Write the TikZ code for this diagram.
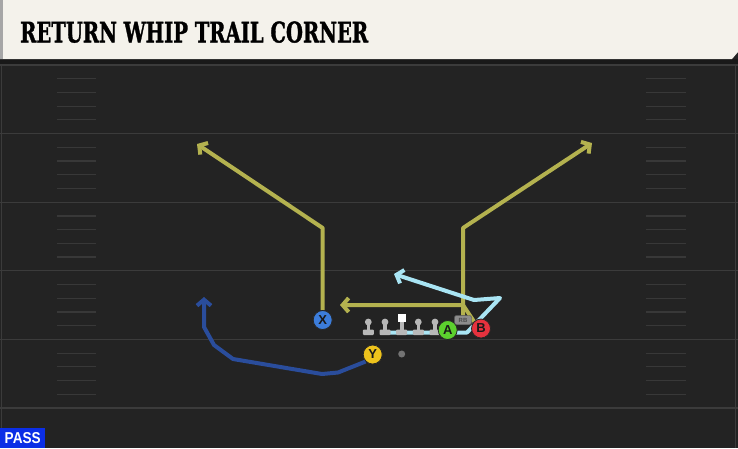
\documentclass[tikz,border=0pt]{standalone}
\usepackage{graphicx}
\usepackage{xcolor}
\usepackage{fontspec}
\setsansfont{Liberation Sans}
\newfontfamily\slabfont{DejaVu Serif}[BoldFeatures={FakeBold=1.5}]
\usepackage{tikz}
\usetikzlibrary{arrows.meta}

\definecolor{field}{HTML}{232323}
\definecolor{yardline}{HTML}{3B3B3B}
\definecolor{hashgray}{HTML}{383838}
\definecolor{titlebg}{HTML}{F4F2EB}
\definecolor{olive}{HTML}{B4B24F}
\definecolor{sky}{HTML}{A9E5F4}
\definecolor{navy}{HTML}{2A4D9C}
\definecolor{xblue}{HTML}{3C7DDB}
\definecolor{yyellow}{HTML}{EEC31C}
\definecolor{agreen}{HTML}{5CD12E}
\definecolor{bred}{HTML}{E5323E}
\definecolor{passblue}{HTML}{0B2EE6}
\definecolor{linegray}{HTML}{B8B8B8}

\begin{document}
\begin{tikzpicture}[x=1pt,y=-1pt,
    player/.style={draw=black!85,line width=0.8pt,circle,minimum size=19pt,inner sep=0pt,
        font=\sffamily\bfseries\fontsize{13}{13}\selectfont,text=black!90},
    back/.style={draw=black!70,fill=black!45,rounded corners=2pt,minimum width=17pt,minimum height=9pt,
        inner sep=0pt,font=\sffamily\bfseries\fontsize{6}{6}\selectfont,text=black!70},
    route/.style={line width=4pt,line join=round,-{Straight Barb[length=6pt,width=14pt]}},
    hash/.style={draw=hashgray,line width=1.2pt}]
    \useasboundingbox (0,0) rectangle (738,448);
    \fill[field] (0,0) rectangle (738,448);
    % field lines
    \foreach \k in {0,...,5} {
        \draw[yardline,line width=1.3pt] (0,65+68.6*\k) -- (738,65+68.6*\k);
    }
    \foreach \k in {0,...,4} {
        \foreach \i in {1,...,4} {
            \draw[hash] (57,65+68.6*\k+13.7*\i) -- (96,65+68.6*\k+13.7*\i);
            \draw[hash] (646,65+68.6*\k+13.7*\i) -- (686,65+68.6*\k+13.7*\i);
        }
    }
    \draw[yardline,line width=1pt] (1.5,60) -- (1.5,448);
    \draw[yardline,line width=1pt] (735.5,60) -- (735.5,448);
    % title bar
    \fill[black!90] (0,59) rectangle (738,64);
    \fill[titlebg] (0,0) -- (738,0) -- (738,52) -- (732,59) -- (0,59) -- cycle;
    \fill[black!35] (0,0) rectangle (3,59);
    \node[anchor=south west,inner sep=0pt] (title) at (20,43)
        {\resizebox{348pt}{21pt}{\slabfont\bfseries RETURN WHIP TRAIL CORNER}};
    \node[fill=passblue,anchor=south west,minimum width=45pt,minimum height=20pt,inner sep=0pt] (pass) at (0,448)
        {\color{white}\resizebox{36pt}{11pt}{\sffamily\bfseries PASS}};

    % players
    \node[player,fill=xblue] (X) at (322.7,320) {X};
    \node[player,fill=yyellow] (Y) at (372.7,354.5) {Y};
    \node[player,fill=agreen] (A) at (447.7,330) {A};
    \node[player,fill=bred] (B) at (481,328.5) {B};
    \node[back] (RB) at (463,320) {RB};
    \node[circle,fill=black!55,minimum size=7pt,inner sep=0pt] (ball) at (401.7,354) {};

    % routes
    \coordinate (c1) at (380,332.5);
    \draw[route,olive] (X.north) -- (322.7,228) -- (197,144);
    \draw[route,olive] (RB.north) -- (463,228) -- (592,143);
    \draw[route,olive] (B.north west) -- (463,305) -- (340,305);
    \draw[route,sky] (c1) -- (467,332.5) -- (500,298) -- (474,300) -- (394,274);
    \draw[route,navy] (Y.south west) -- (338,372.5) -- (322,374) -- (233,359) -- (214,345)
        -- (204,327) -- (204,297);

    % line
    \foreach \x in {368.3,385,418.3,435} {
        \fill[linegray] (\x,322) circle (3.4);
        \fill[linegray] (\x-1.8,322) rectangle (\x+1.8,331);
        \fill[linegray,rounded corners=1pt] (\x-5.5,329.5) rectangle (\x+5.5,335);
    }
    \fill[white] (397.7,313.5) rectangle (405.7,321.5);
    \fill[linegray] (399.9,321.5) rectangle (403.5,331);
    \fill[linegray,rounded corners=1pt] (396.2,329.5) rectangle (407.2,335);

    % players on top
    \node[player,fill=xblue] at (X) {X};
    \node[player,fill=yyellow] at (Y) {Y};
    \node[player,fill=agreen] at (A) {A};
    \node[player,fill=bred] at (B) {B};
    \node[back] at (RB) {RB};
\end{tikzpicture}
\end{document}
